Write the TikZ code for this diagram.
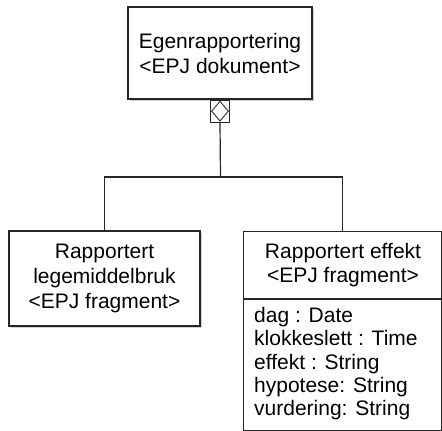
\documentclass[tikz,border=0pt]{standalone}
\usepackage{fontspec}
\setmainfont{Liberation Sans}
\usetikzlibrary{shapes.geometric,shadows}
\begin{document}
\begin{tikzpicture}[x=1pt,y=-1pt,
  umlbox/.style={draw=black!85, line width=1.2pt, fill=white, inner sep=0pt,
    align=center, font=\fontsize{21}{25}\selectfont,
    drop shadow={shadow xshift=1.5pt, shadow yshift=-1.5pt, fill=black!30, opacity=0.6}},
  attrtext/.style={inner sep=0pt, align=left, anchor=north west,
    font=\fontsize{21}{23.3}\selectfont},
  link/.style={draw=black!85, line width=1.2pt}]
  \useasboundingbox (0,0) rectangle (442,431);
  \clip (0,0) rectangle (442,431);

  % whole document class
  \node[umlbox, minimum width=184pt, minimum height=92pt] (doc) at (220,53)
    {Egenrapportering\\<EPJ dokument>};

  % aggregation marker under the document class
  \node[draw=black!85, line width=1.1pt, fill=white, inner sep=0pt,
    minimum width=19pt, minimum height=22pt, anchor=north] (agg) at (doc.south) {};
  \node[diamond, draw=black!80, line width=0.9pt, inner sep=0pt,
    minimum width=17pt, minimum height=20pt] (aggd) at (agg.center) {};

  % part classes
  \node[umlbox, minimum width=191pt, minimum height=95pt] (bruk) at (104.5,278.5)
    {Rapportert\\legemiddelbruk\\<EPJ fragment>};
  \node[umlbox, minimum width=198pt, minimum height=199pt, anchor=north west] (eff)
    at (243,231) {};
  \coordinate (divL) at (243,299);
  \coordinate (divR) at (441,299);
  \draw[link] (divL) -- (divR);
  \node[inner sep=0pt, align=center, font=\fontsize{21}{24}\selectfont] (effhead)
    at (343,265) {Rapportert effekt\\<EPJ fragment>};
  \node[attrtext] (effattr) at (254,307)
    {dag : Date\\klokkeslett : Time\\effekt : String\\hypotese: String\\vurdering: String};

  % aggregation tree
  \coordinate (fork) at (220.5,177);
  \draw[link] (agg.south) -- (fork);
  \draw[link] (bruk.north) |- (fork) -| (eff.north);
\end{tikzpicture}
\end{document}
